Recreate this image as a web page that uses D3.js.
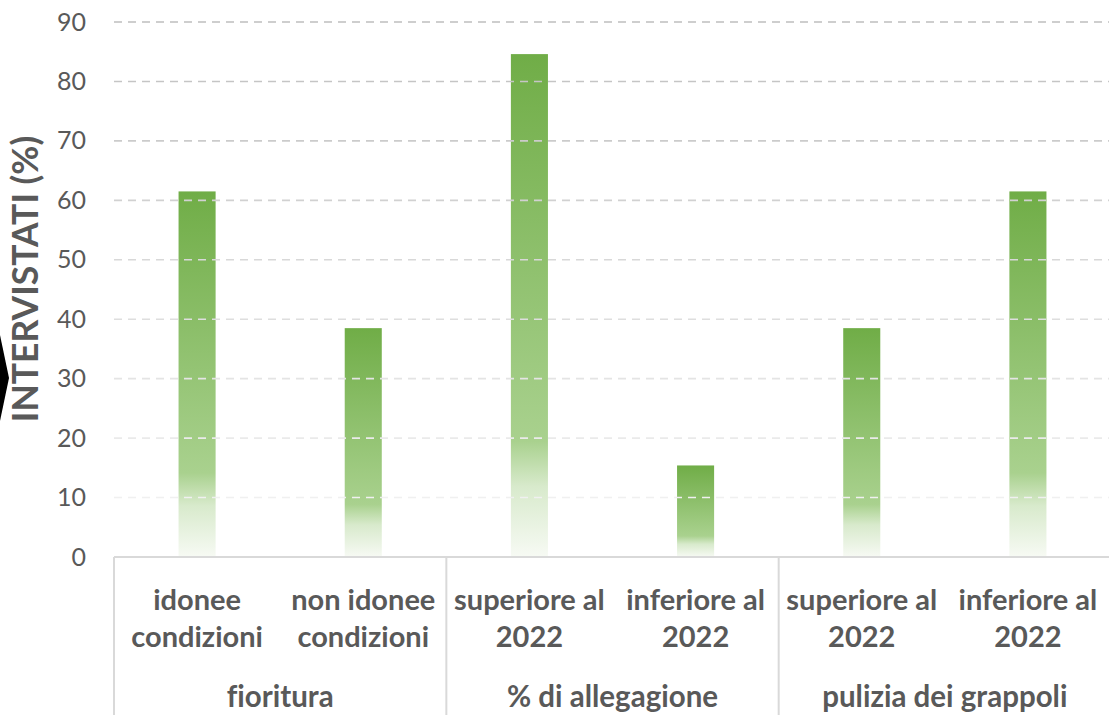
<!DOCTYPE html>
<html>
<head>
<meta charset="utf-8">
<script src="https://cdn.jsdelivr.net/npm/d3@7"></script>
<style>
  body { margin: 0; background: #fff; }
  svg { display: block; font-family: Lato, "Open Sans", sans-serif; font-variant-ligatures: none; }
</style>
</head>
<body>
<svg id="chart" width="1109" height="715"></svg>
<script>
// data
var groups = ["fioritura", "% di allegagione", "pulizia dei grappoli"];
var categories = ["idonee condizioni", "non idonee condizioni", "superiore al 2022 (a)", "inferiore al 2022 (a)", "superiore al 2022 (p)", "inferiore al 2022 (p)"];
var categoryLines = [["idonee", "condizioni"], ["non idonee", "condizioni"], ["superiore al", "2022"], ["inferiore al", "2022"], ["superiore al", "2022"], ["inferiore al", "2022"]];
var categoryGroup = [0, 0, 1, 1, 2, 2];
var values = [61.5, 38.5, 84.6, 15.4, 38.5, 61.5];
var yTicks = [0, 10, 20, 30, 40, 50, 60, 70, 80, 90];

var svg = d3.select("#chart");
var margin = {top: 22, right: -2, bottom: 158, left: 114};
var width = +svg.attr("width") - margin.left - margin.right;
var height = +svg.attr("height") - margin.top - margin.bottom;

var x = d3.scaleBand().domain(categories).range([0, width]).paddingInner(0.777).paddingOuter(0.3885);
var y = d3.scaleLinear().domain([0, 90]).range([height, 0]);

// bar gradient, green at top fading to white
var defs = svg.append("defs");
var grad = defs.append("linearGradient").attr("id", "barGrad")
    .attr("x1", 0).attr("y1", 0).attr("x2", 0).attr("y2", 1);
grad.append("stop").attr("offset", "0%").attr("stop-color", "#70ad47");
grad.append("stop").attr("offset", "77%").attr("stop-color", "#a9d18e");
grad.append("stop").attr("offset", "86%").attr("stop-color", "#d8eacc");
grad.append("stop").attr("offset", "100%").attr("stop-color", "#f7faf4");

// decorative black shape at left edge
svg.append("path").attr("d", "M0,335 L9,378 L0,421 Z").attr("fill", "#000");

var g = svg.append("g")
    .attr("transform", "translate(" + margin.left + "," + margin.top + ")");

g.selectAll(".bar")
    .data(values)
  .enter().append("rect")
    .attr("class", "bar")
    .attr("x", function(d, i) { return x(categories[i]); })
    .attr("y", function(d) { return y(d); })
    .attr("width", x.bandwidth())
    .attr("height", function(d) { return height - y(d); })
    .attr("fill", "url(#barGrad)");

// dashed gridlines (drawn over bars, lighter toward the bottom)
var gridColor = d3.scaleLinear().domain([10, 90]).range(["#f0f0f0", "#bfbfbf"]);
g.selectAll(".grid")
    .data(yTicks.filter(function(d) { return d > 0; }))
  .enter().append("line")
    .attr("class", "grid")
    .attr("x1", 0).attr("x2", width)
    .attr("y1", function(d) { return y(d); })
    .attr("y2", function(d) { return y(d); })
    .attr("stroke", function(d) { return gridColor(d); })
    .attr("stroke-width", 1.6)
    .attr("stroke-dasharray", "8,6");

// y axis labels
var yAxis = g.append("g")
    .call(d3.axisLeft(y).tickValues(yTicks).tickSize(0).tickPadding(28));
yAxis.select(".domain").remove();
yAxis.selectAll("text")
    .style("font-family", "Lato, sans-serif")
    .style("font-size", "25px")
    .attr("fill", "#595959");

// y title
svg.append("text")
    .attr("transform", "translate(38," + 279 + ") rotate(-90)")
    .attr("text-anchor", "middle")
    .style("font-size", "35.5px")
    .style("font-weight", "bold")
    .attr("fill", "#595959")
    .text("INTERVISTATI (%)");

// x axis base line
g.append("line")
    .attr("x1", 0).attr("x2", width)
    .attr("y1", height).attr("y2", height)
    .attr("stroke", "#d9d9d9").attr("stroke-width", 2);

// group separators
var half = (x.step() - x.bandwidth()) / 2;
var groupStart = groups.map(function(gr, gi) {
  var first = categories[categoryGroup.indexOf(gi)];
  return x(first) - half;
});
groupStart.push(width);
g.selectAll(".sep")
    .data(groupStart)
  .enter().append("line")
    .attr("class", "sep")
    .attr("x1", function(d) { return d; }).attr("x2", function(d) { return d; })
    .attr("y1", height).attr("y2", height + margin.bottom)
    .attr("stroke", "#d9d9d9").attr("stroke-width", 2);

// category labels
var catLabels = g.selectAll(".cat")
    .data(categoryLines)
  .enter().append("text")
    .attr("class", "cat")
    .attr("text-anchor", "middle")
    .attr("fill", "#595959")
    .style("font-size", "29px")
    .style("font-weight", "bold");
catLabels.each(function(lines, i) {
  var cx = x(categories[i]) + x.bandwidth() / 2;
  d3.select(this).selectAll("tspan")
      .data(lines)
    .enter().append("tspan")
      .attr("x", cx)
      .attr("y", function(d, j) { return height + 53 + j * 37; })
      .text(function(d) { return d; });
});

// group labels
g.selectAll(".grp")
    .data(groups)
  .enter().append("text")
    .attr("class", "grp")
    .attr("text-anchor", "middle")
    .attr("x", function(d, i) { return (groupStart[i] + groupStart[i + 1]) / 2; })
    .attr("y", height + 150)
    .attr("fill", "#595959")
    .style("font-size", "29.5px")
    .style("font-weight", "bold")
    .text(function(d) { return d; });
</script>
</body>
</html>
